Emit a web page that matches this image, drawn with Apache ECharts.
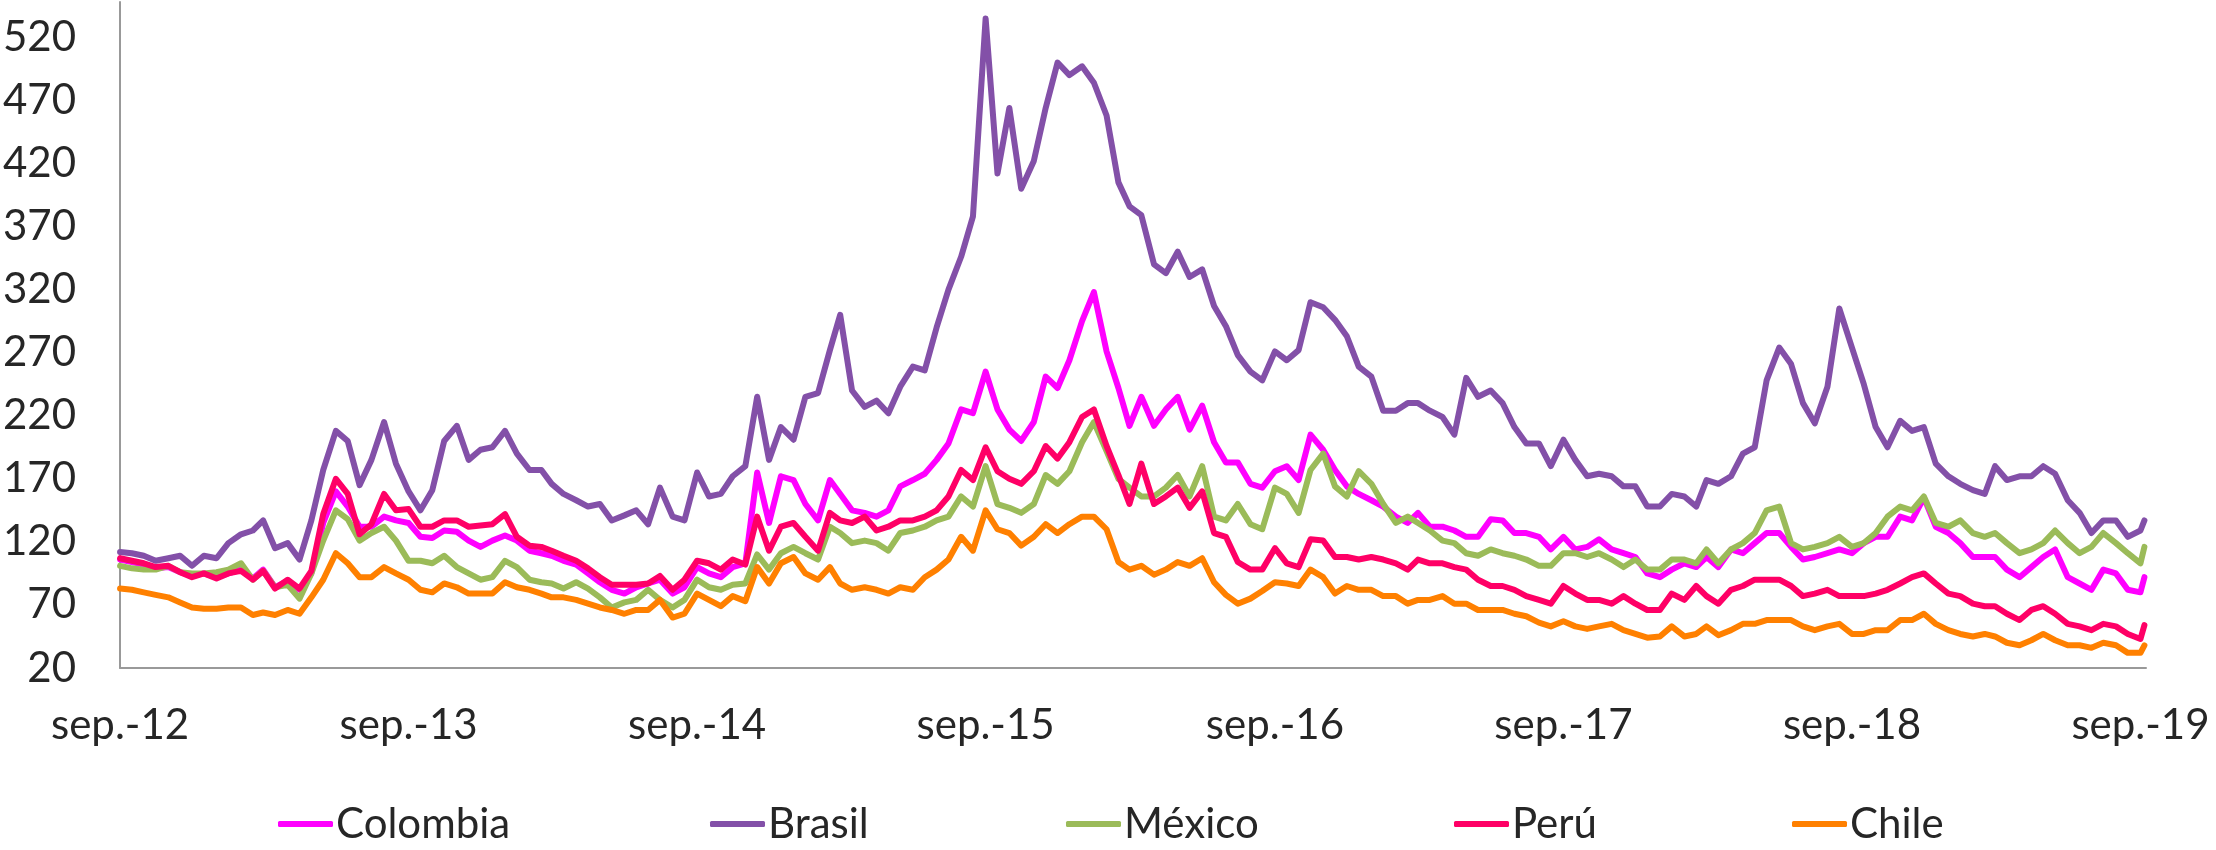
<!DOCTYPE html>
<html>
<head>
<meta charset="utf-8">
<script src="https://cdn.jsdelivr.net/npm/echarts@6/dist/echarts.min.js"></script>
<style>
  html, body { margin: 0; padding: 0; background: #ffffff; }
  #chart { width: 2216px; height: 850px; }
</style>
</head>
<body>
<div id="chart"></div>
<script>
// Semi-monthly observations (1st and 16th of each month), Sep 2012 – Sep 2019, plus last day shown
const seriesNames = ['Colombia', 'Brasil', 'México', 'Perú', 'Chile'];
const yTickValues = [20, 70, 120, 170, 220, 270, 320, 370, 420, 470, 520];
const xTickYears = [2012, 2013, 2014, 2015, 2016, 2017, 2018, 2019];

function buildDates() {
  const out = [];
  for (let i = 0; i < 168; i++) {
    const m = 8 + Math.floor(i / 2);
    out.push(Date.UTC(2012 + Math.floor(m / 12), m % 12, i % 2 ? 16 : 1));
  }
  out.push(Date.UTC(2019, 8, 1));
  out.push(Date.UTC(2019, 8, 6));
  return out;
}
const dates = buildDates();

const colombia = [
  106,104,102,99,100,96,93,95,92,95,98,91,98,84,89,82,95,135,160,148,132,132,140,137,
  135,124,123,129,128,121,116,121,125,121,113,111,109,105,102,95,88,82,79,84,87,90,79,84,
  100,95,92,100,103,175,135,172,169,150,137,169,158,145,143,140,145,164,169,174,185,198,225,222,
  255,225,209,200,215,251,242,264,295,318,271,242,212,235,212,225,235,209,228,199,183,183,166,163,
  176,180,169,205,193,177,164,158,153,148,140,135,143,132,132,129,124,124,138,137,127,127,124,114,
  124,114,116,122,114,111,108,95,92,98,103,100,108,100,114,111,119,127,127,116,106,108,111,114,
  111,119,124,124,140,137,155,132,127,119,108,108,108,98,92,100,108,114,92,87,82,98,95,82,
  80,92
];
const brasil = [
  112,111,109,105,107,109,101,109,107,119,126,129,137,115,119,106,137,177,208,200,165,185,215,182,
  160,145,161,200,212,185,193,195,208,190,177,177,166,158,153,148,150,137,141,145,134,163,140,137,
  175,156,158,172,180,235,185,211,201,235,238,272,300,240,227,232,222,243,259,256,290,320,346,378,
  535,412,464,400,422,464,500,490,497,484,458,405,386,379,340,333,350,330,336,307,291,268,255,248,
  271,264,272,310,306,296,283,259,251,224,224,230,230,224,219,205,250,235,240,230,211,198,198,180,
  201,185,172,174,172,164,164,148,148,158,156,148,169,166,172,190,195,248,274,261,230,214,243,305,
  274,245,211,195,216,208,211,182,172,166,161,158,180,169,172,172,180,174,153,143,127,137,137,124,
  129,137
];
const mexico = [
  101,99,98,98,101,96,95,95,96,98,103,90,97,84,86,75,95,121,145,138,121,127,132,121,
  105,105,103,109,100,95,90,92,105,100,90,88,87,83,88,83,76,68,72,74,82,74,68,74,
  90,84,82,86,87,110,98,111,116,111,106,132,127,119,121,119,113,127,129,132,137,140,156,148,
  180,150,147,143,150,173,166,176,199,215,192,170,163,156,156,163,173,156,180,140,137,150,134,130,
  163,158,143,177,190,164,156,176,166,150,135,140,135,129,121,119,111,109,114,111,109,106,101,101,
  111,111,108,111,106,100,106,98,98,106,106,103,114,103,114,119,127,145,148,119,114,116,119,124,
  116,119,127,140,148,145,156,135,132,137,127,124,127,119,111,114,119,129,119,111,116,127,119,111,
  103,116
];
const peru = [
  107,105,103,100,101,96,92,95,91,95,97,90,97,83,90,83,97,142,170,158,126,134,158,145,
  146,132,132,137,137,132,133,134,142,124,117,116,113,109,105,99,92,86,86,86,87,93,82,90,
  105,103,98,106,102,140,113,132,135,124,113,143,137,135,140,129,132,137,137,140,145,156,177,169,
  195,176,170,166,176,196,186,199,219,225,196,173,150,182,150,156,163,147,160,127,124,104,98,98,
  115,103,100,122,121,108,108,106,108,106,103,98,106,103,103,100,98,90,85,85,82,77,74,71,
  85,79,74,74,71,77,71,66,66,79,74,85,77,71,82,85,90,90,90,85,77,79,82,77,
  77,77,79,82,87,92,95,87,79,77,71,69,69,63,58,66,69,63,55,53,50,55,53,47,
  43,54
];
const chile = [
  83,82,80,78,76,72,68,67,67,68,68,62,64,62,66,63,76,90,111,103,92,92,100,95,
  90,82,80,87,84,79,79,79,88,84,82,79,76,76,74,71,68,66,63,66,66,74,60,63,
  79,74,69,77,73,100,87,103,108,95,90,100,87,82,84,82,79,84,82,92,98,106,124,113,
  145,130,127,117,124,134,127,134,140,140,130,104,98,101,94,98,104,101,107,88,78,71,75,81,
  88,87,85,98,92,79,85,82,82,77,77,71,74,74,77,71,71,66,66,66,63,61,56,53,
  57,53,51,53,55,50,47,44,45,53,45,47,53,46,50,55,55,58,58,58,53,50,53,55,
  47,47,50,50,58,58,63,55,50,47,45,47,45,40,38,42,47,42,38,38,36,40,38,32,
  32,38
];

const seriesValues = [colombia, brasil, mexico, peru, chile];
const colors = ['#FF00FF', '#8350A8', '#9BBB59', '#FF0066', '#FF8000'];
const legendLeft = [278, 710, 1066, 1454, 1792];

const FONT = 'Lato, "Open Sans", sans-serif';
const TEXT = '#262626';

const chart = echarts.init(document.getElementById('chart'), null, { renderer: 'canvas' });

const xTicks = xTickYears.map(y => Date.UTC(y, 8, 1));

const option = {
  animation: false,
  backgroundColor: '#ffffff',
  color: colors,
  grid: { left: 118, right: 70, top: 2, bottom: 182 },
  xAxis: {
    type: 'value',
    min: Date.UTC(2012, 8, 1),
    max: Date.UTC(2019, 8, 8),
    axisLine: { show: true, lineStyle: { color: '#999999', width: 2 } },
    axisTick: { show: false },
    splitLine: { show: false },
    axisLabel: {
      customValues: xTicks,
      margin: 36,
      fontSize: 42,
      fontFamily: FONT,
      color: TEXT,
      formatter: function (v) {
        const d = new Date(v);
        const yy = String(d.getUTCFullYear()).slice(2);
        return 'sep.-' + yy;
      }
    }
  },
  yAxis: {
    type: 'value',
    min: 20,
    max: 548,
    axisLine: { show: true, lineStyle: { color: '#999999', width: 2 } },
    axisTick: { show: false },
    splitLine: { show: false },
    axisLabel: {
      customValues: yTickValues,
      margin: 44,
      fontSize: 42,
      fontFamily: FONT,
      color: TEXT
    }
  },
  legend: seriesNames.map((n, i) => ({
    data: [n],
    left: legendLeft[i],
    top: 800,
    icon: 'roundRect',
    itemWidth: 55,
    itemHeight: 6,
    itemGap: 0,
    padding: 0,
    textStyle: { fontSize: 42, fontFamily: FONT, color: TEXT, lineHeight: 48, padding: [0, 0, 0, -2] }
  })),
  series: seriesNames.map((n, i) => ({
    name: n,
    type: 'line',
    data: dates.map((t, k) => [t, seriesValues[i][k]]),
    symbol: 'none',
    showSymbol: false,
    smooth: false,
    sampling: null,
    lineStyle: { width: 6, color: colors[i], cap: 'round', join: 'round' },
    itemStyle: { color: colors[i] },
    emphasis: { disabled: true }
  }))
};

chart.setOption(option);
</script>
</body>
</html>
